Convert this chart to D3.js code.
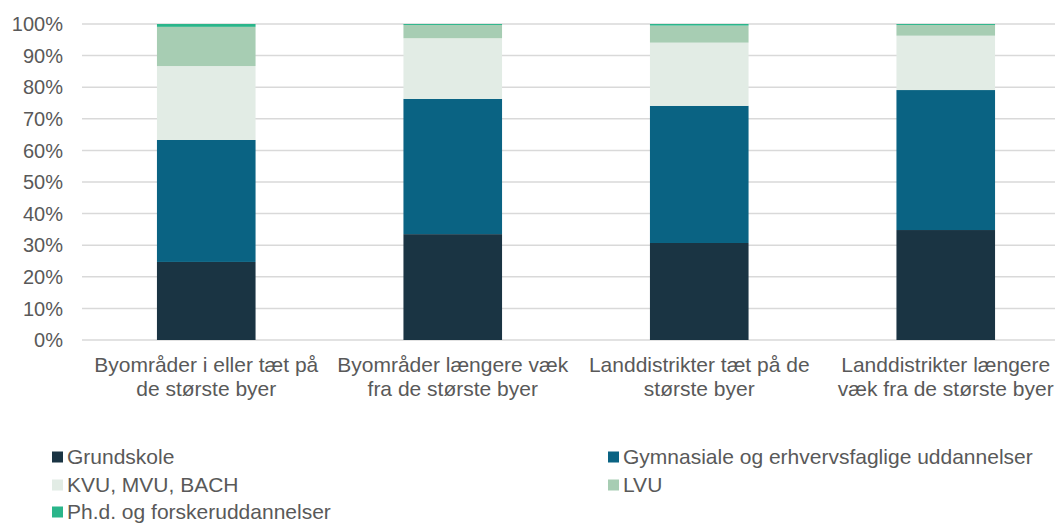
<!DOCTYPE html>
<html>
<head>
<meta charset="utf-8">
<script src="https://cdn.jsdelivr.net/npm/d3@7"></script>
<style>
  body { margin: 0; background: #fff; }
  svg text { font-family: "Liberation Sans", Arial, sans-serif; fill: #595959; }
</style>
</head>
<body>
<div id="chart"></div>
<script>
// data (shares, %)
var categories = [
    ["Byområder i eller tæt på", "de største byer"],
    ["Byområder længere væk", "fra de største byer"],
    ["Landdistrikter tæt på de", "største byer"],
    ["Landdistrikter længere", "væk fra de største byer"]
];
var seriesNames = ["Grundskole", "Gymnasiale og erhvervsfaglige uddannelser", "KVU, MVU, BACH", "LVU", "Ph.d. og forskeruddannelser"];
var grundskole = [24.7, 33.5, 30.7, 34.8];
var gymnasiale = [38.6, 42.8, 43.4, 44.3];
var kvu = [23.4, 19.2, 20.0, 17.2];
var lvu = [12.4, 4.2, 5.4, 3.4];
var phd = [0.9, 0.3, 0.5, 0.3];
var yTicks = [0, 10, 20, 30, 40, 50, 60, 70, 80, 90, 100];
var colors = ["#1a3443", "#0a6383", "#e2ece5", "#a7cdb3", "#2ab58a"];

var width = 1055, height = 523;
var svg = d3.select("#chart").append("svg")
    .attr("width", width)
    .attr("height", height);

var rows = categories.map(function (c, i) {
    return {
        key: i,
        "Grundskole": grundskole[i],
        "Gymnasiale og erhvervsfaglige uddannelser": gymnasiale[i],
        "KVU, MVU, BACH": kvu[i],
        "LVU": lvu[i],
        "Ph.d. og forskeruddannelser": phd[i]
    };
});

var x = d3.scaleBand()
    .domain(d3.range(categories.length))
    .range([83, 1069])
    .paddingInner(0.6)
    .paddingOuter(0.3);

var y = d3.scaleLinear().domain([0, 100]).range([340, 24]);

var color = d3.scaleOrdinal().domain(seriesNames).range(colors);

// gridlines
svg.append("g")
    .selectAll("line")
    .data(yTicks)
    .enter()
    .append("line")
    .attr("x1", 82)
    .attr("x2", width)
    .attr("y1", function (d) { return y(d); })
    .attr("y2", function (d) { return y(d); })
    .attr("stroke", "#d9d9d9")
    .attr("stroke-width", 1.5);

// y labels
svg.append("g")
    .selectAll("text")
    .data(yTicks)
    .enter()
    .append("text")
    .attr("x", 63)
    .attr("y", function (d) { return y(d); })
    .attr("dy", "0.36em")
    .attr("text-anchor", "end")
    .attr("font-size", 20)
    .text(function (d) { return d + "%"; });

var stack = d3.stack().keys(seriesNames);

svg.append("g")
    .selectAll("g")
    .data(stack(rows))
    .enter()
    .append("g")
    .attr("fill", function (d) { return color(d.key); })
    .selectAll("rect")
    .data(function (d) { return d; })
    .enter()
    .append("rect")
    .attr("x", function (d) { return x(d.data.key); })
    .attr("width", x.bandwidth())
    .attr("y", function (d) { return y(d[1]); })
    .attr("height", function (d) { return y(d[0]) - y(d[1]); });

// category labels
var cat = svg.append("g")
    .selectAll("text")
    .data(categories)
    .enter()
    .append("text")
    .attr("text-anchor", "middle")
    .attr("font-size", 21)
    .attr("x", function (d, i) { return x(i) + x.bandwidth() / 2; })
    .attr("y", 372);

cat.selectAll("tspan")
    .data(function (d) { return d; })
    .enter()
    .append("tspan")
    .attr("x", function () { return d3.select(this.parentNode).attr("x"); })
    .attr("dy", function (d, j) { return j === 0 ? 0 : 24; })
    .text(function (d) { return d; });

// legend
var legendPos = [[52, 457], [608, 457], [52, 485], [608, 485], [52, 512]];
var legend = svg.append("g")
    .selectAll("g")
    .data(seriesNames)
    .enter()
    .append("g")
    .attr("transform", function (d, i) {
        return "translate(" + legendPos[i][0] + "," + legendPos[i][1] + ")";
    });

legend.append("rect")
    .attr("x", 0)
    .attr("y", -5.5)
    .attr("width", 11)
    .attr("height", 11)
    .attr("fill", function (d) { return color(d); });

legend.append("text")
    .attr("x", 15)
    .attr("y", 0)
    .attr("dy", "0.34em")
    .attr("font-size", 21)
    .text(function (d) { return d; });
</script>
</body>
</html>
